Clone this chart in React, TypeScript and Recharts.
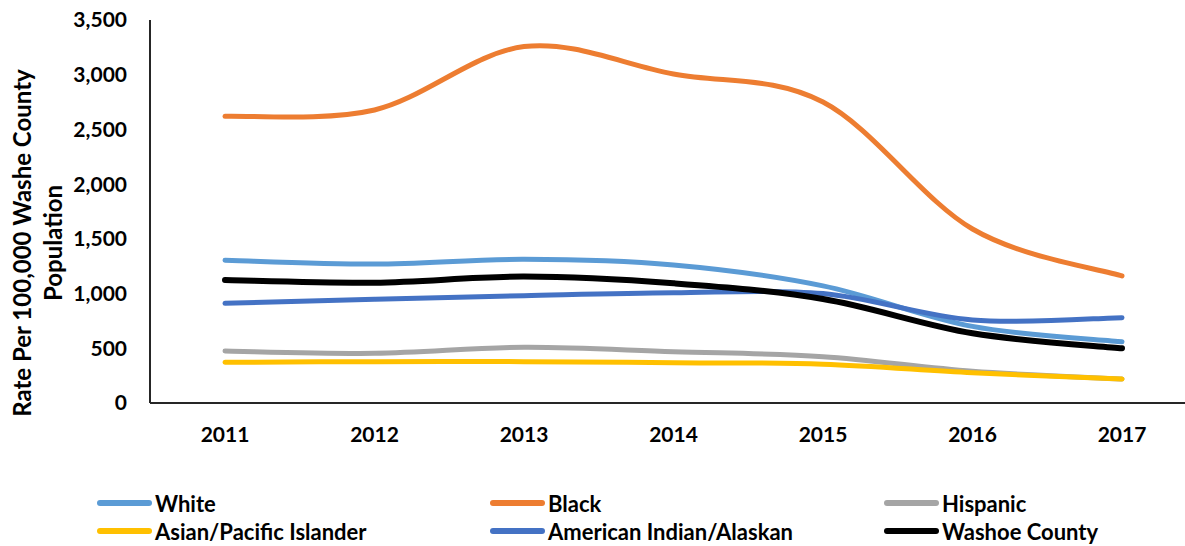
import { LineChart, Line, XAxis, YAxis } from "recharts";

const years = ["2011", "2012", "2013", "2014", "2015", "2016", "2017"];

const white = [1305, 1270, 1313, 1261, 1070, 700, 560];
const black = [2620, 2678, 3257, 3007, 2750, 1590, 1161];
const hispanic = [475, 454, 509, 469, 423, 290, 220];
const asian = [372, 378, 378, 368, 355, 277, 219];
const amIndian = [911, 948, 981, 1008, 1000, 759, 780];
const washoe = [1124, 1100, 1155, 1094, 950, 637, 500];

const yTicks = [0, 500, 1000, 1500, 2000, 2500, 3000, 3500];

const SERIES = [
  { key: "white", name: "White", color: "#5B9BD5", values: white, width: 5 },
  { key: "black", name: "Black", color: "#ED7D31", values: black, width: 5 },
  { key: "hispanic", name: "Hispanic", color: "#A5A5A5", values: hispanic, width: 5 },
  { key: "asian", name: "Asian/Pacific Islander", color: "#FFC000", values: asian, width: 5 },
  { key: "amIndian", name: "American Indian/Alaskan", color: "#4472C4", values: amIndian, width: 5 },
  { key: "washoe", name: "Washoe County", color: "#000000", values: washoe, width: 6 },
];

const data = years.map((year, i) => {
  const row: Record<string, string | number> = { year };
  SERIES.forEach((s) => {
    row[s.key] = s.values[i];
  });
  return row;
});

const FONT = "Lato, 'Open Sans', sans-serif";

// Excel-style smoothed line (Catmull-Rom style bezier segments)
function excelSmooth(context: any) {
  let pts: [number, number][] = [];
  return {
    areaStart() {},
    areaEnd() {},
    lineStart() {
      pts = [];
    },
    lineEnd() {
      if (!pts.length) return;
      context.moveTo(pts[0][0], pts[0][1]);
      for (let i = 0; i < pts.length - 1; i++) {
        const p0 = pts[Math.max(i - 1, 0)];
        const p1 = pts[i];
        const p2 = pts[i + 1];
        const p3 = pts[Math.min(i + 2, pts.length - 1)];
        context.bezierCurveTo(
          p1[0] + (p2[0] - p0[0]) / 6,
          p1[1] + (p2[1] - p0[1]) / 6,
          p2[0] - (p3[0] - p1[0]) / 6,
          p2[1] - (p3[1] - p1[1]) / 6,
          p2[0],
          p2[1]
        );
      }
    },
    point(x: number, y: number) {
      pts.push([+x, +y]);
    },
  };
}

const fmt = (v: number) => v.toLocaleString("en-US");

function YTitle() {
  return (
    <g>
      <text
        x={21}
        y={243}
        transform="rotate(-90, 21, 243)"
        textAnchor="middle"
        dominantBaseline="central"
        fontFamily={FONT}
        fontWeight={700}
        fontSize={24}
        fill="#000"
      >
        Rate Per 100,000 Washe County
      </text>
      <text
        x={52}
        y={243}
        transform="rotate(-90, 52, 243)"
        textAnchor="middle"
        dominantBaseline="central"
        fontFamily={FONT}
        fontWeight={700}
        fontSize={24}
        fill="#000"
      >
        Population
      </text>
    </g>
  );
}

const legendCols = [97, 490, 884];
const legendRows = [503, 531];

export default function App() {
  return (
    <div
      style={{
        position: "absolute",
        left: 0,
        top: 0,
        width: 1185,
        height: 546,
        overflow: "hidden",
        background: "#fff",
      }}
    >
      <LineChart
        width={1200}
        height={546}
        data={data}
        margin={{ top: 20, right: 3, left: 0, bottom: 0 }}
      >
        <XAxis
          dataKey="year"
          scale="point"
          padding={{ left: 75, right: 75 }}
          height={143}
          tickLine={false}
          tickSize={0}
          tickMargin={24}
          axisLine={{ stroke: "#262626", strokeWidth: 2 }}
          tick={{ fill: "#000", fontFamily: FONT, fontWeight: 700, fontSize: 21 }}
        />
        <YAxis
          domain={[0, 3500]}
          ticks={yTicks}
          width={150}
          tickLine={false}
          tickSize={0}
          tickMargin={23}
          tickFormatter={fmt}
          axisLine={{ stroke: "#262626", strokeWidth: 2 }}
          tick={{ fill: "#000", fontFamily: FONT, fontWeight: 700, fontSize: 21 }}
          label={{ content: () => <YTitle /> }}
        />
        {SERIES.map((s) => (
          <Line
            key={s.key}
            dataKey={s.key}
            name={s.name}
            type={excelSmooth as any}
            stroke={s.color}
            strokeWidth={s.width}
            strokeLinecap="round"
            dot={false}
            activeDot={false}
            isAnimationActive={false}
          />
        ))}
      </LineChart>
      {SERIES.map((s, i) => (
        <div
          key={s.key}
          style={{
            position: "absolute",
            left: legendCols[i % 3],
            top: legendRows[Math.floor(i / 3)] - 15,
            height: 30,
            display: "flex",
            alignItems: "center",
            fontFamily: FONT,
            fontWeight: 700,
            fontSize: 22,
            color: "#000",
            whiteSpace: "nowrap",
          }}
        >
          <span
            style={{
              display: "inline-block",
              width: 55,
              height: 6,
              borderRadius: 3,
              background: s.color,
              marginRight: 3,
            }}
          />
          {s.name}
        </div>
      ))}
    </div>
  );
}
